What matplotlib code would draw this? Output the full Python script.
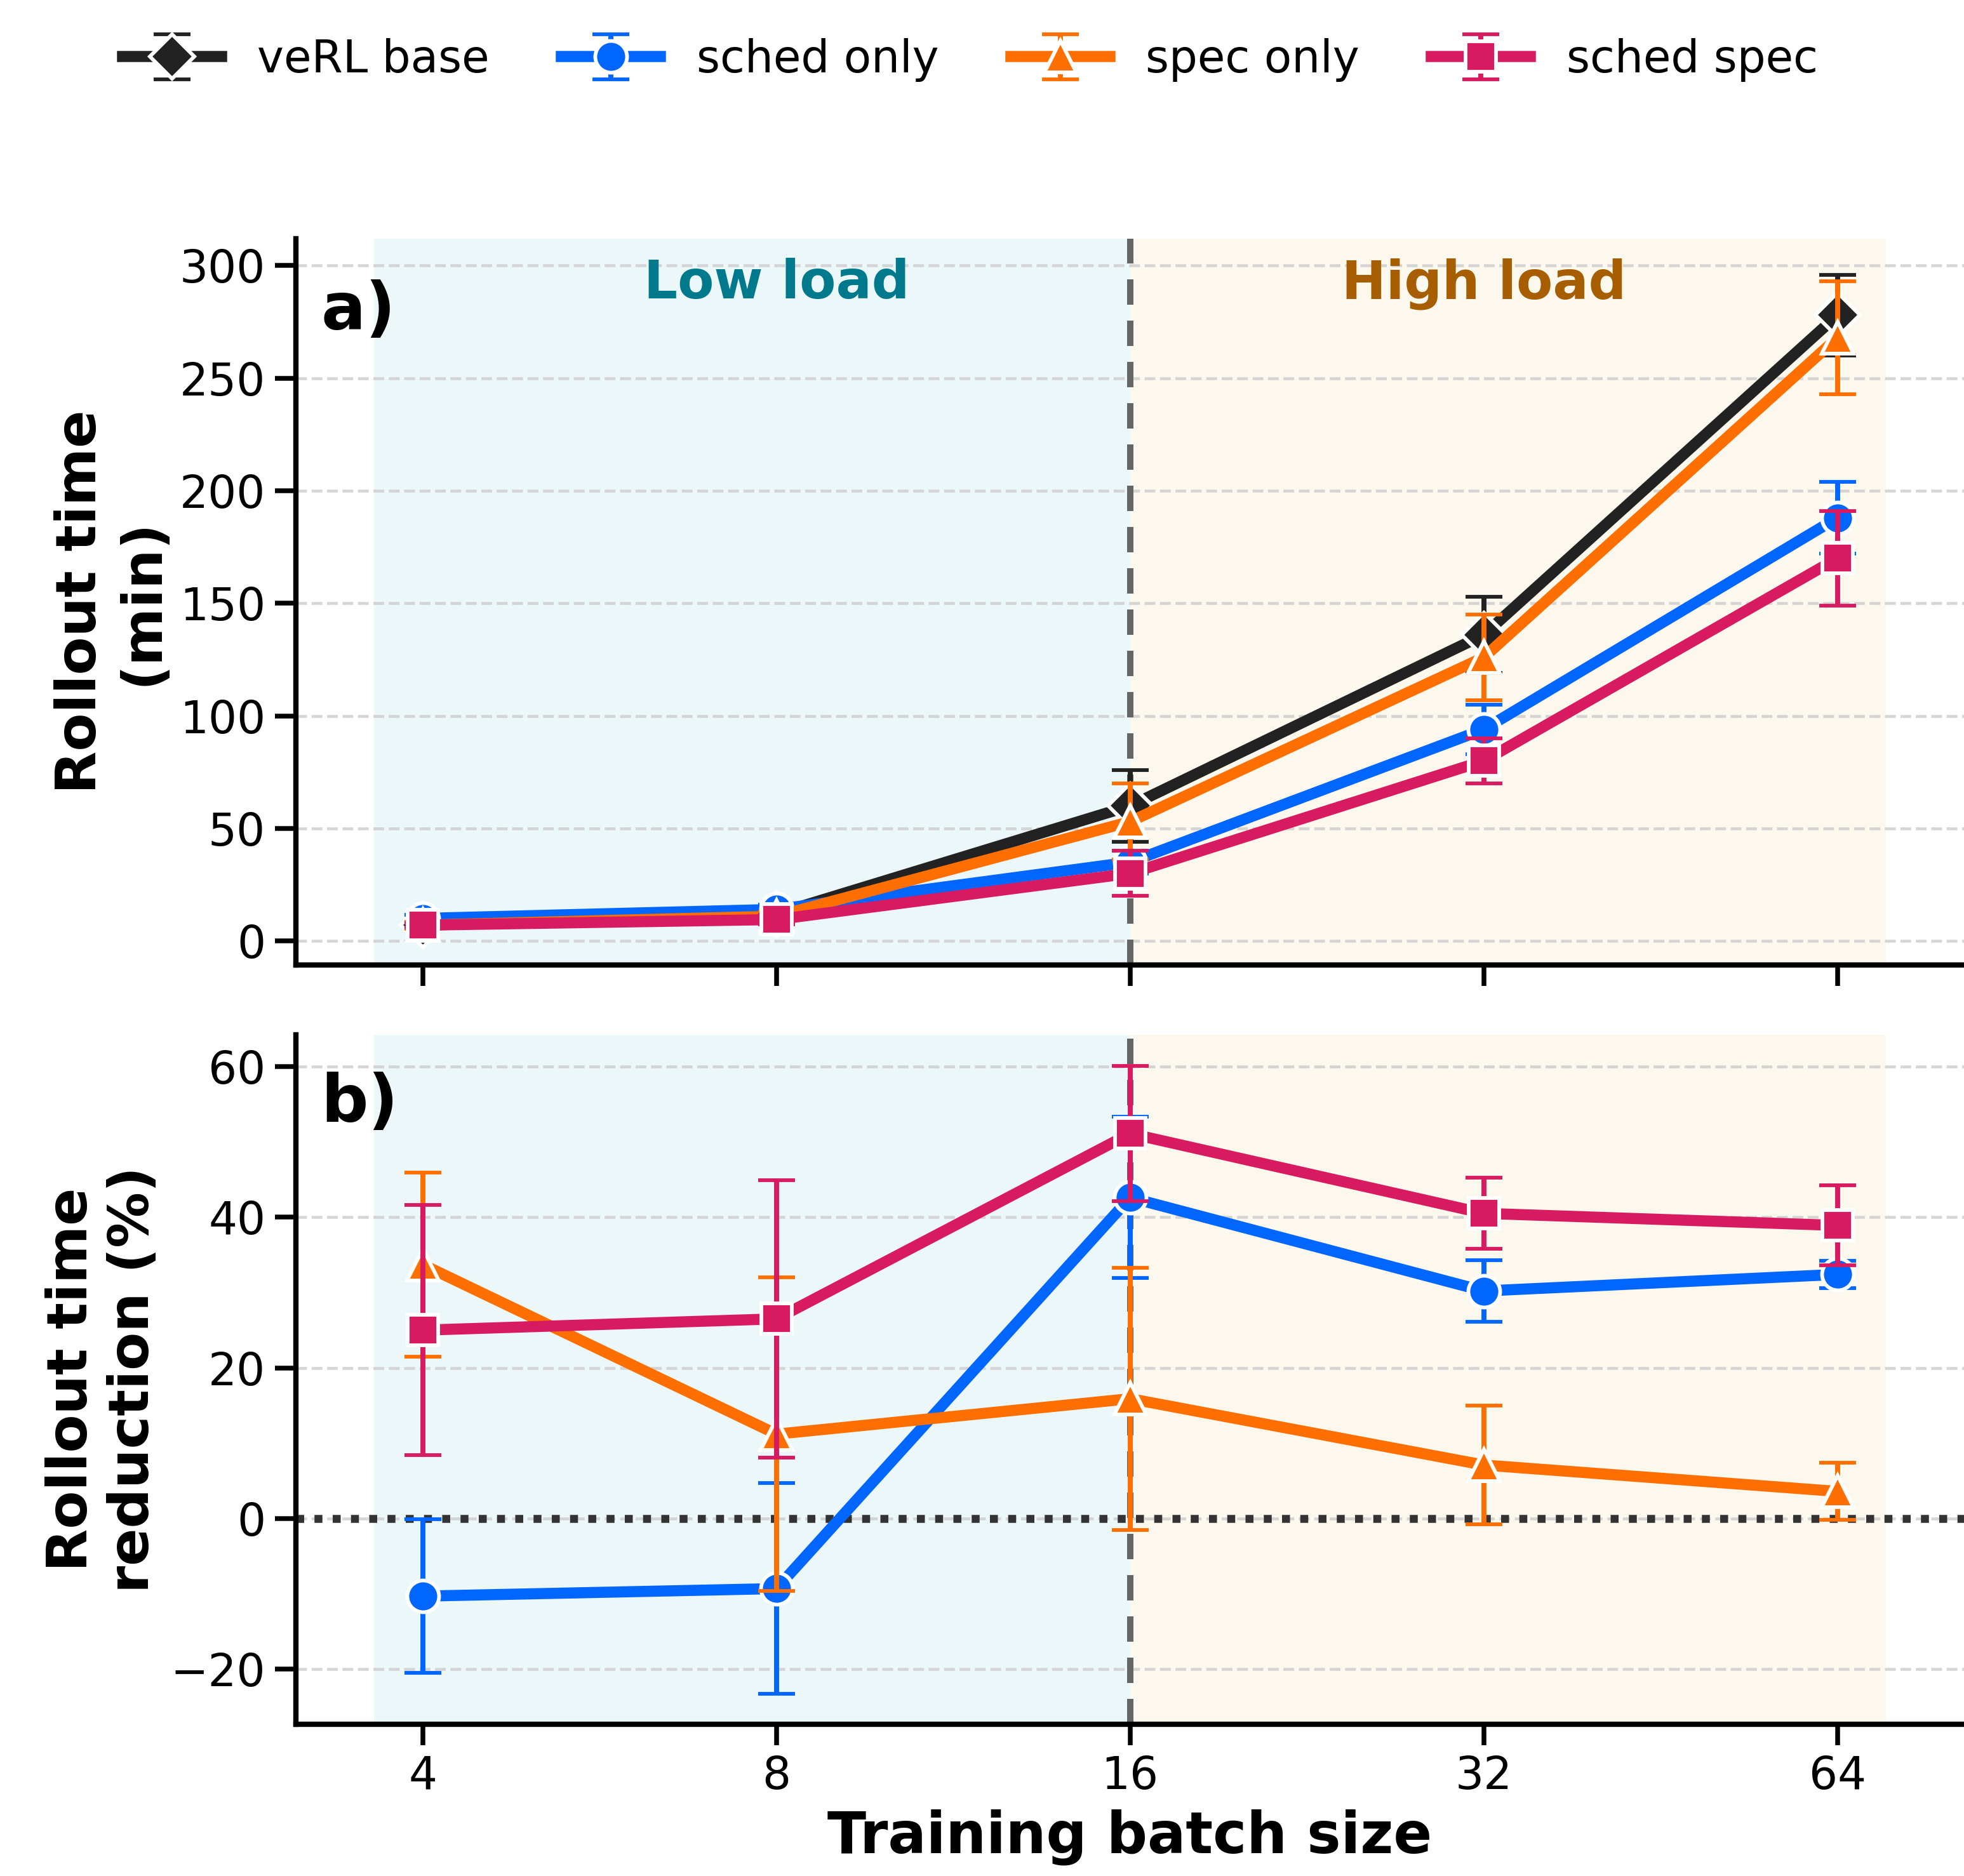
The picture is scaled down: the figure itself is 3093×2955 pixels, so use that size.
import numpy as np
import matplotlib.pyplot as plt

# batch sizes
batch = [4, 8, 16, 32, 64]
names = ["veRL base", "sched only", "spec only", "sched spec"]

# a) rollout time (min)
base_t = [7, 12, 60, 136, 278]
base_e = [1.5, 2.5, 16, 17, 18]
sched_t = [10, 14, 35, 94, 188]
sched_e = [1.5, 2, 5, 11, 16]
spec_t = [7, 11, 53, 126, 268]
spec_e = [1.5, 2, 17, 19, 25]
both_t = [7, 9.5, 30, 80, 170]
both_e = [1, 2, 10, 10, 21]

# b) rollout time reduction (%)
sched_r = [-10.3, -9.3, 42.6, 30.2, 32.4]
sched_re = [10.2, 14.0, 10.7, 4.1, 1.8]
spec_r = [33.7, 11.2, 15.9, 7.1, 3.6]
spec_re = [12.2, 20.8, 17.4, 7.9, 3.8]
both_r = [25.0, 26.5, 51.1, 40.5, 38.9]
both_re = [16.6, 18.4, 9.0, 4.7, 5.3]

colors = ["#222222", "#0066ff", "#ff6f00", "#d81b60"]
markers = ["D", "o", "^", "s"]

plt.rcParams['font.family'] = ['DejaVu Sans']

fig = plt.figure(figsize=(10.31, 9.85), dpi=300)
ax1 = fig.add_axes([0.1507, 0.4856, 0.8493, 0.3872])
ax2 = fig.add_axes([0.1507, 0.0809, 0.8493, 0.3675])

lo_left = 4 / 1.1
hi_right = 64 * 1.1


def style(ax):
    ax.set_xscale('log', base=2)
    ax.set_xlim(3.12, 82)
    ax.axvspan(lo_left, 16, color="#ebf7f9", lw=0, zorder=0)
    ax.axvspan(16, hi_right, color="#fdf8ed", lw=0, zorder=0)
    ax.axvline(16, color="#666666", ls=(0, (4, 2.5)), lw=2.4, zorder=1)
    ax.grid(axis='y', ls='--', color='#cccccc', lw=1.1, alpha=0.8)
    ax.set_axisbelow(True)
    ax.spines['top'].set_visible(False)
    ax.spines['right'].set_visible(False)
    ax.spines['left'].set_linewidth(2.0)
    ax.spines['bottom'].set_linewidth(2.0)
    ax.set_xticks(batch)
    ax.minorticks_off()
    ax.tick_params(axis='both', labelsize=17, length=8, width=1.8)


style(ax1)
style(ax2)


def draw(ax, y, e, c, m, label=None, z=3):
    ax.errorbar(batch, y, yerr=e, color=c, marker=m, ms=12 if m != 's' else 11.5,
                mec='white', mew=1.4, lw=4.2, elinewidth=1.9, capsize=7,
                capthick=1.9, label=label, zorder=z)


draw(ax1, base_t, base_e, colors[0], markers[0], names[0], 3)
draw(ax1, sched_t, sched_e, colors[1], markers[1], names[1], 4)
draw(ax1, spec_t, spec_e, colors[2], markers[2], names[2], 5)
draw(ax1, both_t, both_e, colors[3], markers[3], names[3], 6)

ax1.set_ylim(-10.7, 312)
ax1.set_yticks([0, 50, 100, 150, 200, 250, 300])
ax1.tick_params(axis='x', labelbottom=False)
ax1.set_ylabel("Rollout time\n(min)", fontsize=21, fontweight='bold')
ax1.text(0.015, 0.9, "a)", transform=ax1.transAxes, fontsize=25,
         fontweight='bold', va='center')
ax1.text(8, 292, "Low load", color="#00798c", fontsize=20, fontweight='bold',
         ha='center', va='center')
ax1.text(32, 292, "High load", color="#a65e00", fontsize=20, fontweight='bold',
         ha='center', va='center')

ax2.axhline(0, color="#333333", ls=(0, (1, 1.3)), lw=3, zorder=2)
draw(ax2, sched_r, sched_re, colors[1], markers[1], z=4)
draw(ax2, spec_r, spec_re, colors[2], markers[2], z=5)
draw(ax2, both_r, both_re, colors[3], markers[3], z=6)

ax2.set_ylim(-27.3, 64.2)
ax2.set_yticks([-20, 0, 20, 40, 60])
ax2.set_xticklabels([str(b) for b in batch])
ax2.set_ylabel("Rollout time\nreduction (%)", fontsize=21, fontweight='bold')
ax2.set_xlabel("Training batch size", fontsize=21.5, fontweight='bold')
ax2.text(0.015, 0.9, "b)", transform=ax2.transAxes, fontsize=25,
         fontweight='bold', va='center')

h, l = ax1.get_legend_handles_labels()
fig.legend(h, l, loc='center', bbox_to_anchor=(0.494, 0.968), ncol=4,
           frameon=False, fontsize=17, handlelength=2.2, columnspacing=1.6)

fig.savefig("out.png", dpi=300)
